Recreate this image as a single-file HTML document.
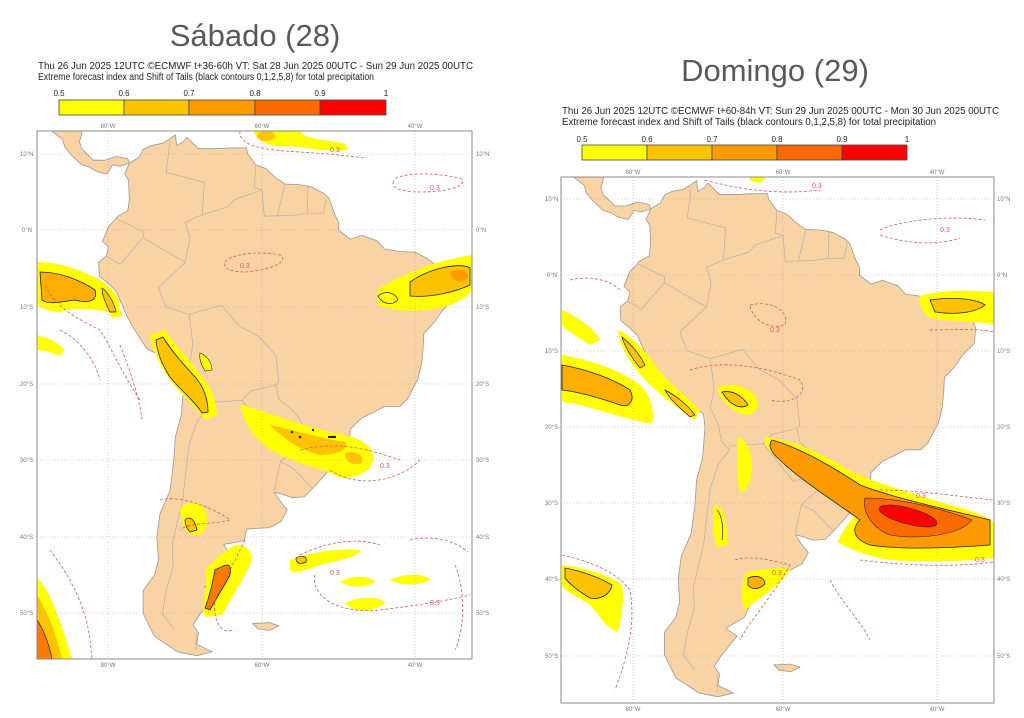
<!DOCTYPE html>
<html><head><meta charset="utf-8"><style>
html,body{margin:0;padding:0;background:#fff;}
svg{display:block;font-family:"Liberation Sans",sans-serif;}
</style></head><body>
<svg width="1024" height="718" viewBox="0 0 1024 718" xmlns="http://www.w3.org/2000/svg">
<defs>
<clipPath id="cl"><rect x="37" y="131" width="435" height="528"/></clipPath>
<clipPath id="cr"><rect x="561" y="177" width="433" height="526"/></clipPath>
<g id="land">
<path vector-effect="non-scaling-stroke" fill="#f9d3a4" stroke="#999" stroke-width="0.8" d="M-77.3,8.7 L-76,9.5 -75.5,10.5 -74.5,11 -73,11.3 -72,11.9 -71.3,12.4 -71.1,11 -70.2,11.6 -69.8,12.1 -68.3,10.6 -66,10.6 -64,10.7 -62,10.7 -61.9,10 -60.8,8.5 -59.5,8 -58.2,6.8 -57,6 -55,5.9 -53.5,5.6 -52,4.8 -51.3,4.2 -50.5,2 -50,1 -50,0 -48.5,-1.2 -47,-0.7 -45,-1.4 -44,-2.5 -42,-2.8 -40,-2.9 -38.5,-3.7 -37,-4.8 -35.5,-5.2 -34.8,-7 -35,-9 -36.5,-10.5 -37.5,-12 -38.9,-13.5 -39,-15.5 -39.2,-17.5 -39.7,-19.5 -40.5,-21 -41,-22 -42,-23 -44,-23 -45.5,-23.8 -47,-24.5 -48.5,-26 -48.6,-28.2 -49.8,-29.5 -51,-31 -52.3,-32.5 -53.5,-33.8 -54.5,-34.8 -56,-34.9 -57.5,-34.4 -58.4,-34.2 -57.3,-35.8 -56.7,-36.5 -57.5,-38 -59,-38.8 -62,-39 -62.3,-40.5 -65,-41 -64,-42.5 -65,-45 -67.5,-46.5 -66,-47.5 -68,-50 -69,-51.5 -68.3,-52.5 -68.5,-54 -66.5,-55 -68.5,-55.5 -71,-55 -74,-53 -75.5,-50 -75.5,-47 -74,-45 -73.5,-43 -73.7,-40 -73.3,-37 -72,-34 -71.5,-30 -71.3,-27 -70.5,-24 -70.2,-20 -70.4,-18.3 -72,-17 -75,-15.5 -76.3,-13.5 -77.5,-11.5 -79,-8 -80,-7 -81.2,-6 -81.3,-4.2 -80.3,-3.4 -80,-2.2 -80.8,-1.5 -80,0.5 -79,1.5 -78.8,1.8 -77.5,2.5 -77.3,4 -77.4,6.5 -77.9,7.3 Z"/>
<path vector-effect="non-scaling-stroke" fill="#f9d3a4" stroke="#999" stroke-width="0.8" d="M-90,14.2 L-87.5,13 -86,11.8 -85.7,10.8 -84.8,9.7 -83.5,8.5 -82.5,8.2 -81.5,7.6 -80.2,7.3 -79.5,8.5 -78.5,8.3 -77.3,8.7 -77.5,9.3 -79,9.6 -80.5,9.1 -82,9.1 -83.5,10.6 -83.8,11.5 -83.5,12.5 -83.2,16 -90,16 Z"/>
<path vector-effect="non-scaling-stroke" fill="#f9d3a4" stroke="#999" stroke-width="0.8" d="M-61.2,-51.3 L-59,-51.2 -57.8,-51.6 -59,-52.2 -60.5,-52 Z"/>
<path vector-effect="non-scaling-stroke" fill="none" stroke="#aaa" stroke-width="0.6" d="M-72,11.5 L-72.5,7.5 -67.5,6.2 -67.8,2 -70,1 -69.4,-1 -70,-4.2 -73.5,-7.5 -72.5,-10 -69.5,-11 -65.3,-9.8 -63,-12.5 -60.5,-13.8 -58.2,-16.3 -57.8,-19.8 -58.2,-20.2 -57.8,-22 -55.5,-24 -54.6,-25.6 -53.7,-26.8 -57.6,-30.2 -56,-31 -53.4,-33.7 M-80.3,-3.4 L-78.5,-4.5 -75.5,-1 -73,-2.5 -70,-4.2 M-79,1.5 L-77,0.5 -75.5,-0.2 -75.5,-1 M-69.5,-11 L-69,-15 -69.5,-17.5 -68.5,-19.5 -68,-22 -67,-23 -68.5,-25 -69.5,-28 -70,-32 -70.3,-35 -71,-38 -71.7,-41 -71.6,-44 -72.5,-47 -73,-50 -71.5,-52 M-67,-22.5 L-62.6,-22.2 -61.5,-21 -58.2,-20.2 M-62.6,-22.2 L-58.6,-27.2 -54.6,-25.6 M-57.6,-30.2 L-58.4,-34 M-60.8,8.5 L-61,5.5 -60,5.2 -63.5,4 -64.5,3 -67.8,2 M-60,5.2 L-59.7,1.8 -56,1.9 -54.1,2.2 -52,2.2 -51.6,4.2 M-57,6 L-58,1.8 M-54,5.7 L-54.1,2.2 M-68.6,-54.9 L-68.6,-52.5"/>
</g>
</defs>

<!-- Titles -->
<text x="255" y="46" font-size="31" fill="#595959" text-anchor="middle">Sábado (28)</text>
<text x="775" y="81" font-size="31" fill="#595959" text-anchor="middle">Domingo (29)</text>

<!-- Left header -->
<text x="38" y="69" font-size="10" fill="#222" textLength="435" lengthAdjust="spacingAndGlyphs">Thu 26 Jun 2025 12UTC ©ECMWF t+36-60h  VT: Sat 28 Jun 2025 00UTC - Sun 29 Jun 2025 00UTC</text>
<text x="38" y="80" font-size="10" fill="#222" textLength="336" lengthAdjust="spacingAndGlyphs">Extreme forecast index and Shift of Tails (black contours 0,1,2,5,8) for total precipitation</text>
<g font-size="8" fill="#222" text-anchor="middle">
<text x="59" y="96">0.5</text><text x="124" y="96">0.6</text><text x="189" y="96">0.7</text><text x="255" y="96">0.8</text><text x="320" y="96">0.9</text><text x="386" y="96">1</text>
</g>
<g stroke="#444" stroke-width="0.8">
<rect x="59" y="100" width="65" height="15" fill="#ffff00"/><rect x="124" y="100" width="65" height="15" fill="#fdc200"/><rect x="189" y="100" width="66" height="15" fill="#fd9a00"/><rect x="255" y="100" width="65" height="15" fill="#fb6a00"/><rect x="320" y="100" width="66" height="15" fill="#ff0000"/>
</g>

<!-- Right header -->
<text x="562" y="114" font-size="10" fill="#222" textLength="437" lengthAdjust="spacingAndGlyphs">Thu 26 Jun 2025 12UTC ©ECMWF t+60-84h  VT: Sun 29 Jun 2025 00UTC - Mon 30 Jun 2025 00UTC</text>
<text x="562" y="125" font-size="10" fill="#222" textLength="374" lengthAdjust="spacingAndGlyphs">Extreme forecast index and Shift of Tails (black contours 0,1,2,5,8) for total precipitation</text>
<g font-size="8" fill="#222" text-anchor="middle">
<text x="582" y="142">0.5</text><text x="647" y="142">0.6</text><text x="712" y="142">0.7</text><text x="777" y="142">0.8</text><text x="842" y="142">0.9</text><text x="907" y="142">1</text>
</g>
<g stroke="#444" stroke-width="0.8">
<rect x="582" y="145" width="65" height="15" fill="#ffff00"/><rect x="647" y="145" width="65" height="15" fill="#fdc200"/><rect x="712" y="145" width="65" height="15" fill="#fd9a00"/><rect x="777" y="145" width="65" height="15" fill="#fb6a00"/><rect x="842" y="145" width="65" height="15" fill="#ff0000"/>
</g>

<!-- LEFT MAP -->
<g clip-path="url(#cl)">
<use href="#land" transform="matrix(7.67 0 0 -7.67 722.2 230)"/>
<!-- blobs -->
<path fill="#ffff00" d="M253,131 L300,131 C305,140 320,138 345,144 L348,150 C330,152 305,148 290,146 C270,148 258,142 253,131Z"/>
<ellipse cx="266" cy="136" rx="9" ry="5" fill="#fdc200"/>
<path fill="#ffff00" d="M37,262 C60,262 80,270 100,280 C115,290 122,300 118,312 C100,312 80,305 60,312 C50,312 40,308 37,305Z"/>
<path fill="#fdae00" stroke="#222" stroke-width="0.8" d="M40,272 C60,272 80,280 95,290 C98,300 90,304 75,300 C60,302 48,305 42,300Z"/>
<path fill="#ffff00" d="M97,283 C108,285 118,298 122,316 L112,318 C104,305 98,295 97,283Z"/>
<path fill="#fdc200" stroke="#222" stroke-width="0.7" d="M102,288 C108,292 114,302 116,312 L110,312 C105,302 102,295 102,288Z"/>
<path fill="#ffff00" d="M37,335 C48,338 58,342 64,350 L60,356 C50,352 42,350 37,350Z"/>
<path fill="#ffff00" d="M150,335 L165,330 C175,345 190,360 200,375 C210,385 215,395 217,415 L205,420 C195,405 180,395 170,380 C160,365 152,350 150,335Z"/>
<path fill="#fdc200" stroke="#222" stroke-width="0.8" d="M156,340 L163,337 C172,352 185,366 196,378 C204,388 208,400 208,412 L202,413 C194,400 180,390 170,377 C162,365 157,352 156,340Z"/>
<path fill="#ffff00" stroke="#222" stroke-width="0.6" d="M200,353 C206,355 212,362 212,370 L205,371 C201,365 199,358 200,353Z"/>
<path fill="#ffff00" d="M377,290 C390,280 420,268 440,262 C455,258 465,256 473,255 L473,290 C465,298 455,305 440,308 C420,312 395,312 377,305Z"/>
<path fill="#fdc200" stroke="#222" stroke-width="0.8" d="M410,282 C430,268 460,262 470,268 L470,285 C455,292 430,298 410,296Z"/>
<path fill="#fd9a00" d="M450,272 C460,268 468,270 468,278 C460,284 452,282 450,272Z"/>
<path fill="none" stroke="#222" stroke-width="0.8" d="M378,296 C385,290 395,292 398,300 C392,306 382,304 378,296Z"/>
<path fill="#ffff00" d="M240,404 C260,410 300,425 330,432 C350,436 370,440 373,455 C375,470 360,478 340,478 C330,470 300,465 280,455 C260,445 245,430 240,404Z"/>
<path fill="#fdc200" d="M270,425 C300,432 330,440 345,442 C350,450 335,455 320,455 C300,450 285,440 270,425Z"/>
<path fill="#fdc200" d="M345,453 C355,450 365,455 362,463 C352,466 345,462 345,453Z"/>
<g fill="#222"><circle cx="292" cy="432" r="1.3"/><circle cx="300" cy="437" r="1.3"/><circle cx="313" cy="430" r="1.2"/><circle cx="334" cy="437" r="1.2"/><rect x="328" y="436" width="8" height="2"/></g>
<path fill="#ffff00" d="M180,510 C185,500 200,500 205,510 C210,525 205,535 195,535 C185,535 182,525 180,510Z"/>
<path fill="#fdc200" stroke="#222" stroke-width="0.8" d="M185,520 C190,515 195,520 197,530 L190,532 C186,528 185,524 185,520Z"/>
<path fill="#ffff00" d="M235,545 C245,545 255,550 250,565 C240,585 230,600 222,615 L205,617 C200,600 210,585 205,570 C215,560 225,550 235,545Z"/>
<path fill="#fb7a00" stroke="#222" stroke-width="0.8" d="M215,570 C225,565 232,560 230,575 C222,590 215,600 210,610 L205,608 C210,595 212,585 215,570Z"/>
<path fill="#ffff00" d="M290,560 C310,552 340,548 360,550 C362,556 340,560 320,565 C305,570 295,575 290,570Z"/>
<path fill="#fdc200" stroke="#222" stroke-width="0.7" d="M296,558 C302,555 308,556 306,562 C300,565 296,563 296,558Z"/>
<path fill="#ffff00" d="M340,582 C350,575 370,575 375,582 C365,588 350,588 340,582Z"/>
<path fill="#ffff00" d="M390,580 C405,573 425,573 430,580 C420,586 400,586 390,580Z"/>
<path fill="#ffff00" d="M345,603 C360,596 380,596 385,603 C375,612 355,614 345,603Z"/>
<path fill="#ffff00" d="M37,578 C50,590 60,620 72,659 L37,659Z"/>
<path fill="#fdc200" d="M37,595 C48,612 56,635 62,659 L37,659Z"/>
<path fill="#fb7a00" stroke="#222" stroke-width="0.7" d="M37,620 C45,632 50,648 52,659 L37,659Z"/>
<!-- dashed 0.3 contours -->
<g fill="none" stroke="#e05a5a" stroke-width="0.8" stroke-dasharray="3,2">
<path d="M240,131 C238,145 260,150 300,152 C330,154 350,156 365,158"/>
<path d="M393,183 C392,175 420,170 460,178 C470,185 450,192 420,192 C400,192 393,188 393,183Z"/>
<path d="M225,262 C230,255 255,250 280,255 C290,262 270,270 245,272 C230,272 222,268 225,262Z"/>
<path d="M45,285 C55,308 80,320 100,330 C110,345 120,370 140,400"/>
<path d="M60,330 C80,340 95,360 100,380 M120,345 C130,370 140,400 142,420"/>
<path d="M300,450 C340,440 370,450 400,460 M330,470 C360,490 400,480 420,460"/>
<path d="M160,500 C175,495 210,505 230,520 C210,525 190,522 180,530"/>
<path d="M245,540 C235,560 225,580 215,600 C212,620 222,635 232,630"/>
<path d="M300,555 C330,540 360,538 380,545 M410,540 C430,535 455,540 468,552"/>
<path d="M315,575 C310,590 330,615 380,610 C420,605 450,600 470,595"/>
<path d="M50,550 C65,570 85,600 90,640 L92,659"/>
<path d="M455,565 C462,580 468,620 455,650"/>
</g>
<g font-size="7" fill="#e05a5a"><text x="330" y="152">0.3</text><text x="430" y="190">0.3</text><text x="240" y="268">0.3</text><text x="380" y="468">0.3</text><text x="330" y="575">0.3</text><text x="430" y="605">0.3</text></g>
<!-- grid -->
<g stroke="#aaa" stroke-width="0.6" stroke-dasharray="1,2">
<path d="M108,131V659M262,131V659M415,131V659"/>
<path d="M37,154H472M37,230H472M37,307H472M37,384H472M37,460H472M37,537H472M37,613H472"/>
</g>
</g>
<rect x="37" y="131" width="435" height="528" fill="none" stroke="#888" stroke-width="1"/>
<g font-size="6" fill="#777" text-anchor="middle">
<text x="108" y="128">80°W</text><text x="262" y="128">60°W</text><text x="415" y="128">40°W</text>
<text x="108" y="667">80°W</text><text x="262" y="667">60°W</text><text x="415" y="667">40°W</text>
</g>
<g font-size="6" fill="#777">
<text x="20" y="156">10°N</text><text x="22" y="232">0°N</text><text x="20" y="309">10°S</text><text x="20" y="386">20°S</text><text x="20" y="462">30°S</text><text x="20" y="539">40°S</text><text x="20" y="615">50°S</text>
<text x="476" y="156">10°N</text><text x="476" y="232">0°N</text><text x="476" y="309">10°S</text><text x="476" y="386">20°S</text><text x="476" y="462">30°S</text><text x="476" y="539">40°S</text><text x="476" y="615">50°S</text>
</g>

<!-- RIGHT MAP -->
<g clip-path="url(#cr)">
<use href="#land" transform="matrix(7.65 0 0 -7.6 1242 275)"/>
<path fill="#ffff00" d="M748,177 L765,177 C764,183 755,186 748,177Z"/>
<path fill="#ffff00" d="M920,296 C940,290 965,290 994,292 L994,325 C975,320 950,322 930,318 C922,312 918,303 920,296Z"/>
<path fill="#fdc200" stroke="#222" stroke-width="0.8" d="M930,300 C950,297 975,298 985,305 C975,313 955,315 935,312Z"/>
<path fill="#ffff00" d="M562,310 C580,318 595,330 600,340 L590,345 C575,335 565,330 562,325Z"/>
<path fill="#ffff00" d="M562,355 C590,360 620,370 640,385 C650,395 655,410 652,424 C630,420 600,410 580,405 C570,402 565,405 562,400Z"/>
<path fill="#fdae00" stroke="#222" stroke-width="0.8" d="M562,365 C590,370 615,380 630,390 C635,400 630,408 620,405 C600,398 580,392 562,390Z"/>
<path fill="#ffff00" d="M618,330 C630,335 645,350 655,365 C665,380 685,395 700,410 L695,420 C680,410 660,395 645,380 C632,365 620,350 618,330Z"/>
<path fill="#fdc200" stroke="#222" stroke-width="0.7" d="M622,337 C632,345 640,355 645,365 L640,368 C632,358 625,348 622,337Z M665,390 C675,395 688,405 695,415 L690,417 C680,408 670,400 665,390Z"/>
<path fill="#ffff00" d="M717,388 C730,382 745,385 755,395 C760,405 757,415 745,415 C730,410 720,400 717,388Z"/>
<path fill="#fdc200" stroke="#222" stroke-width="0.8" d="M722,392 C732,390 742,395 748,405 C740,410 730,405 722,392Z"/>
<path fill="#ffff00" d="M738,438 C745,438 752,450 752,470 C750,485 745,493 740,493 C737,480 736,455 738,438Z"/>
<path fill="#ffff00" d="M765,437 C790,440 815,450 840,465 C860,478 900,490 950,505 C975,512 994,518 994,525 L994,558 C960,562 920,562 890,560 C870,557 850,550 838,542 C842,530 852,518 862,510 C840,498 810,482 790,467 C775,457 762,447 765,437Z"/>
<path fill="#fd9a00" stroke="#222" stroke-width="0.8" d="M772,440 C800,448 830,465 860,485 C900,500 950,510 990,520 L990,545 C950,548 900,550 870,545 C855,540 850,530 860,520 C840,505 800,480 780,460 C770,452 768,445 772,440Z"/>
<path fill="#fb6a00" stroke="#222" stroke-width="0.6" d="M865,498 C900,498 940,508 972,520 C960,535 920,540 890,535 C872,528 862,512 865,498Z"/>
<ellipse cx="908" cy="516" rx="30" ry="8" transform="rotate(15 908 516)" fill="#ff0000" stroke="#222" stroke-width="0.6"/>
<path fill="#ffff00" d="M715,505 C722,505 728,520 727,545 L717,547 C712,530 712,515 715,505Z"/>
<path fill="none" stroke="#222" stroke-width="0.7" d="M717,510 C722,515 724,530 722,540"/>
<path fill="#ffff00" d="M745,573 C760,570 780,565 790,570 C780,585 760,598 745,610 C740,600 742,585 745,573Z"/>
<path fill="#fdae00" stroke="#222" stroke-width="0.8" d="M748,578 C756,575 764,576 765,584 C758,590 752,590 748,585Z"/>
<path fill="#ffff00" d="M562,565 C585,568 610,575 622,585 C625,605 620,620 618,632 C605,628 600,615 590,605 C575,595 562,590 562,585Z"/>
<path fill="#fdc200" stroke="#222" stroke-width="0.8" d="M565,568 C585,572 600,578 612,585 C610,595 600,600 590,598 C580,592 570,585 565,578Z"/>
<g fill="none" stroke="#e05a5a" stroke-width="0.8" stroke-dasharray="3,2">
<path d="M705,180 C740,190 780,195 820,190"/>
<path d="M880,230 C900,220 950,215 985,220 M880,235 C910,245 940,245 960,238"/>
<path d="M750,305 C770,300 790,310 785,325 C770,330 752,320 750,305Z"/>
<path d="M570,280 C590,275 610,280 620,290"/>
<path d="M690,370 C720,360 760,365 800,380 C810,395 790,405 770,400"/>
<path d="M880,490 C920,490 960,497 994,500"/>
<path d="M860,560 C900,565 950,568 994,562"/>
<path d="M562,555 C585,560 615,570 630,590 C635,620 630,650 615,690"/>
<path d="M735,560 C750,555 770,560 790,565 C770,600 750,620 740,640"/>
<path d="M830,580 C840,600 860,620 870,640"/>
<path d="M930,330 C950,330 975,328 994,332"/>
</g>
<g font-size="7" fill="#e05a5a"><text x="812" y="188">0.3</text><text x="940" y="232">0.3</text><text x="770" y="332">0.3</text><text x="916" y="498">0.3</text><text x="975" y="562">0.3</text><text x="772" y="575">0.3</text></g>
<g stroke="#aaa" stroke-width="0.6" stroke-dasharray="1,2">
<path d="M633,177V703M783,177V703M937,177V703"/>
<path d="M561,199H994M561,275H994M561,351H994M561,427H994M561,503H994M561,579H994M561,656H994"/>
</g>
</g>
<rect x="561" y="177" width="433" height="526" fill="none" stroke="#888" stroke-width="1"/>
<g font-size="6" fill="#777" text-anchor="middle">
<text x="633" y="174">80°W</text><text x="783" y="174">60°W</text><text x="937" y="174">40°W</text>
<text x="633" y="711">80°W</text><text x="783" y="711">60°W</text><text x="937" y="711">40°W</text>
</g>
<g font-size="6" fill="#777">
<text x="545" y="201">10°N</text><text x="547" y="277">0°N</text><text x="545" y="353">10°S</text><text x="545" y="429">20°S</text><text x="545" y="505">30°S</text><text x="545" y="581">40°S</text><text x="545" y="658">50°S</text>
<text x="997" y="201">10°N</text><text x="997" y="277">0°N</text><text x="997" y="353">10°S</text><text x="997" y="429">20°S</text><text x="997" y="505">30°S</text><text x="997" y="581">40°S</text><text x="997" y="658">50°S</text>
</g>
</svg>
</body></html>
